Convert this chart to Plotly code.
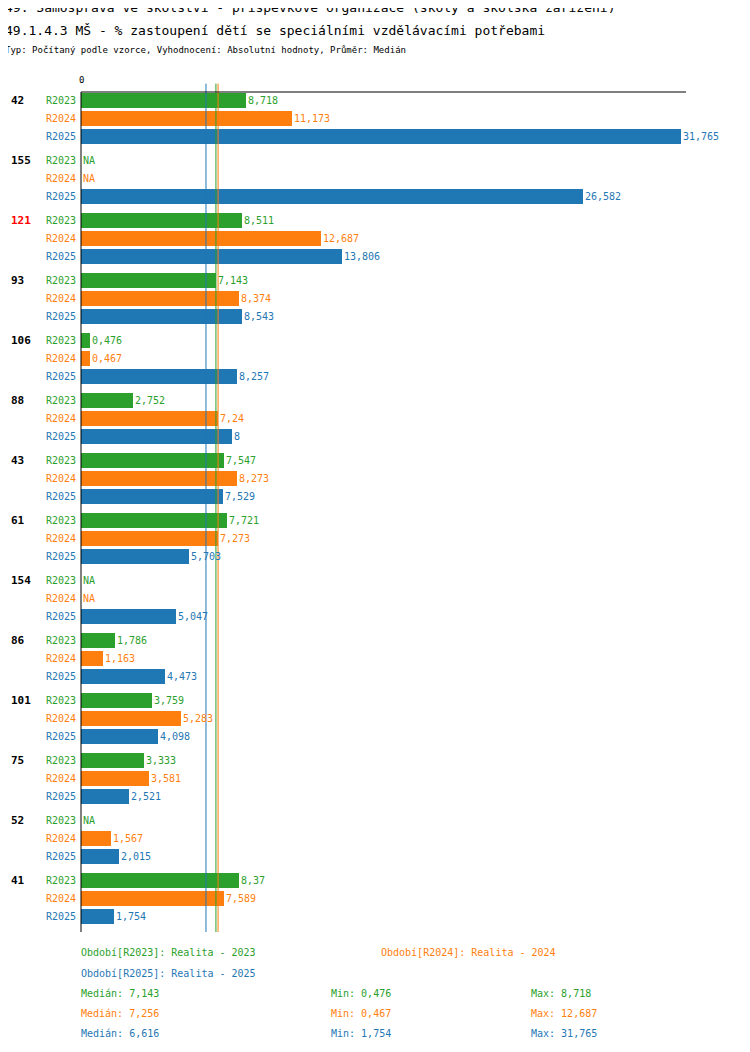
import plotly.graph_objects as go

groups = ["42", "155", "121", "93", "106", "88", "43", "61", "154", "86", "101", "75", "52", "41"]
series = ["R2023", "R2024", "R2025"]
colors = ["#2ca02c", "#ff7f0e", "#1f77b4"]
r2023 = [8.718, None, 8.511, 7.143, 0.476, 2.752, 7.547, 7.721, None, 1.786, 3.759, 3.333, None, 8.37]
r2024 = [11.173, None, 12.687, 8.374, 0.467, 7.24, 8.273, 7.273, None, 1.163, 5.283, 3.581, 1.567, 7.589]
r2025 = [31.765, 26.582, 13.806, 8.543, 8.257, 8, 7.529, 5.703, 5.047, 4.473, 4.098, 2.521, 2.015, 1.754]
medians = [7.143, 7.256, 6.616]
mins = [0.476, 0.467, 1.754]
maxs = [8.718, 12.687, 31.765]
period_labels = ["Období[R2023]: Realita - 2023", "Období[R2024]: Realita - 2024", "Období[R2025]: Realita - 2025"]

FONT = "DejaVu Sans Mono"
PITCH = 60 / 18


def fmt(v):
    return "NA" if v is None else ("%g" % v).replace(".", ",")


# paper coordinates: plot from x=81..686 px, y=92..932 px
def px(xp): return (xp - 81) / 605
def py(yp): return (932 - yp) / 840


fig = go.Figure()
ann = []
for j, (name, vals, col) in enumerate(zip(series, [r2023, r2024, r2025], colors)):
    ys = [i * PITCH + j for i in range(len(groups))]
    fig.add_trace(go.Bar(x=[v or 0 for v in vals], y=ys, orientation="h", width=15 / 18,
                         marker=dict(color=col, line_width=0), showlegend=False))
    for y, v in zip(ys, vals):
        ann.append(dict(x=v or 0, y=y, text=fmt(v), xanchor="left", showarrow=False, xshift=0,
                        font=dict(color=col, size=10, family=FONT)))
        ann.append(dict(x=0, y=y, text=name, xanchor="right", showarrow=False, xshift=-3,
                        font=dict(color=col, size=10, family=FONT)))

for i, g in enumerate(groups):
    ann.append(dict(xref="paper", x=px(9), y=i * PITCH, text="<b>%s</b>" % g, xanchor="left", showarrow=False,
                    font=dict(color="red" if g == "121" else "black", size=11, family=FONT)))

shapes = [dict(type="line", xref="x", yref="paper", x0=m, x1=m, y0=0, y1=1.01,
               line=dict(color=c, width=1)) for m, c in zip(medians, colors)]
shapes.append(dict(type="line", xref="paper", yref="paper", x0=0, x1=1, y0=1, y1=1, line=dict(color="black", width=1)))
shapes.append(dict(type="line", xref="paper", yref="paper", x0=0, x1=0, y0=0, y1=1, line=dict(color="black", width=1)))

def pann(x, y, text, col, size=11):
    ann.append(dict(xref="paper", yref="paper", x=x, y=y, text=text, xanchor="left", yanchor="middle",
                    showarrow=False, font=dict(color=col, size=size, family=FONT)))

pann(px(3), py(8), "49. Samospráva ve školství - příspěvkové organizace (školy a školská zařízení)", "black", 13)
pann(px(3), py(30), "49.1.4.3 MŠ - % zastoupení dětí se speciálními vzdělávacími potřebami", "black", 13)
pann(px(3), py(50), "Typ: Počítaný podle vzorce, Vyhodnocení: Absolutní hodnoty, Průměr: Medián", "black", 9)
pann(px(77), py(80), "0", "black", 9)
pann(px(79), py(953), period_labels[0], colors[0], 10)
pann(px(379), py(953), period_labels[1], colors[1], 10)
pann(px(79), py(973), period_labels[2], colors[2], 10)
for k in range(3):
    yy = py(993 + 20 * k)
    pann(px(79), yy, "Medián: " + fmt(medians[k]), colors[k], 10)
    pann(px(329), yy, "Min: " + fmt(mins[k]), colors[k], 10)
    pann(px(529), yy, "Max: " + fmt(maxs[k]), colors[k], 10)

top = -8 / 18
bottom = 13 * PITCH + 2 + 16 / 18
# page body has an 8px margin, so shift by 8px
fig.update_layout(
    width=742, height=1044, margin=dict(l=73, r=64, t=84, b=120),
    paper_bgcolor="white", plot_bgcolor="white", bargap=0,
    xaxis=dict(range=[0, 605 / 18.89], visible=False),
    yaxis=dict(range=[bottom, top], visible=False),
    annotations=ann, shapes=shapes,
)
fig.write_html("out.html")
